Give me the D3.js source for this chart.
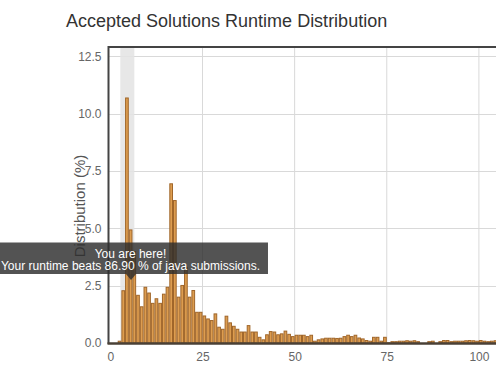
<!DOCTYPE html>
<html><head><meta charset="utf-8">
<script src="https://cdn.jsdelivr.net/npm/d3@7"></script>
<style>
body{margin:0;overflow:hidden;background:#fff}
svg{display:block}
text{font-family:"Liberation Sans",Arial,sans-serif}
</style>
</head><body>
<svg id="chart" width="496" height="370"></svg>
<script>
// ---- data ----
const runtimes = d3.range(1, 105);
const distribution = [
  0, 0.1, 2.3, 10.7, 4.95, 4.0, 2.1, 1.6, 2.45, 2.2,
  1.75, 1.95, 1.75, 2.15, 2.45, 6.96, 6.23, 2.02, 2.53, 3.32,
  2.02, 2.31, 1.36, 1.36, 1.2, 1.07, 1.0, 1.29, 0.71, 0.62,
  1.19, 0.9, 0.75, 0.62, 0.5, 0.5, 0.78, 0.5, 0.5, 0.27,
  0.16, 0.38, 0.52, 0.5, 0.38, 0.42, 0.54, 0.4, 0.3, 0.36,
  0.36, 0.36, 0.3, 0.36, 0.1, 0.16, 0.2, 0.23, 0.23, 0.23,
  0.22, 0.23, 0.3, 0.36, 0.3, 0.36, 0.24, 0.2, 0.13, 0.1,
  0.27, 0.27, 0.1, 0.27, 0.03, 0.08, 0.08, 0.1, 0.1, 0.12,
  0.1, 0.12, 0.08, 0, 0, 0.08, 0.1, 0.02, 0.08, 0.13,
  0.13, 0.08, 0.1, 0.1, 0.1, 0.12, 0.13, 0.12, 0.1, 0.13,
  0.1, 0.08, 0.1, 0.12
];
const xTicks = [0, 25, 50, 75, 100];
const yTicks = [0, 2.5, 5, 7.5, 10, 12.5];
const highlightRange = [2.7, 6.5];
const youAreHere = 5.6;
const chartTitle = "Accepted Solutions Runtime Distribution";
const yAxisTitle = "Distribution (%)";
const tipLines = ["You are here!", "Your runtime beats 86.90 % of java submissions."];

// ---- layout ----
const svg = d3.select("#chart");
const plot = {left: 108.5, top: 47, bottom: 343, right: 560};
const x = d3.scaleLinear().domain([-0.5, 122]).range([plot.left, plot.right]);
const y = d3.scaleLinear().domain([0, 12.9]).range([plot.bottom, plot.top]);

// title
svg.append("text").attr("x", 66).attr("y", 27)
  .attr("font-size", 18).attr("fill", "#333").text(chartTitle);

// grid
const g = svg.append("g");
g.selectAll(".vg").data(xTicks.filter(d => d > 0)).join("line")
  .attr("x1", d => x(d)).attr("x2", d => x(d))
  .attr("y1", plot.top).attr("y2", plot.bottom)
  .attr("stroke", "#d9d9d9").attr("stroke-width", 1);
g.selectAll(".hg").data(yTicks.filter(d => d > 0)).join("line")
  .attr("x1", plot.left).attr("x2", plot.right)
  .attr("y1", d => Math.round(y(d)) + 0.5).attr("y2", d => Math.round(y(d)) + 0.5)
  .attr("stroke", "#d9d9d9").attr("stroke-width", 1);

// highlight band
svg.append("rect")
  .attr("x", x(highlightRange[0])).attr("width", x(highlightRange[1]) - x(highlightRange[0]))
  .attr("y", plot.top).attr("height", plot.bottom - plot.top)
  .attr("fill", "#e3e3e3").attr("opacity", 0.85);

// bars
const data = runtimes.map((r, i) => ({r, v: distribution[i]}));
svg.append("g").selectAll("rect").data(data.filter(d => d.v > 0)).join("rect")
  .attr("x", d => x(d.r) + 0.5)
  .attr("width", d => x(d.r + 1) - x(d.r) - 1)
  .attr("y", d => y(d.v) + 0.5)
  .attr("height", d => Math.max(0, y(0) - y(d.v) - 0.5))
  .attr("fill", "#dd9d50").attr("stroke", "#a0662a").attr("stroke-width", 1);

// frame
svg.append("line").attr("x1", plot.left).attr("x2", plot.right)
  .attr("y1", plot.top).attr("y2", plot.top).attr("stroke", "#444").attr("stroke-width", 2);
svg.append("line").attr("x1", plot.left).attr("x2", plot.left)
  .attr("y1", plot.top - 1).attr("y2", plot.bottom + 1).attr("stroke", "#444").attr("stroke-width", 2);
svg.append("line").attr("x1", plot.left - 1).attr("x2", plot.right)
  .attr("y1", plot.bottom + 0.5).attr("y2", plot.bottom + 0.5).attr("stroke", "#4a4036").attr("stroke-width", 2.5);

// axes
const xAxis = svg.append("g").attr("transform", `translate(0,${plot.bottom + 1})`)
  .call(d3.axisBottom(x).tickValues(xTicks).tickFormat(d3.format("d")).tickSize(0).tickPadding(8));
const yAxis = svg.append("g").attr("transform", `translate(${plot.left - 1},0)`)
  .call(d3.axisLeft(y).tickValues(yTicks).tickFormat(d3.format(".1f")).tickSize(0).tickPadding(6));
[xAxis, yAxis].forEach(a => {
  a.select(".domain").remove();
  a.selectAll("text").attr("font-size", 12).attr("fill", "#666")
    .attr("font-family", '"Liberation Sans",Arial,sans-serif');
});

// y title
svg.append("text").attr("transform", "translate(85,206) rotate(-90)")
  .attr("text-anchor", "middle").attr("font-size", 15).attr("fill", "#555").text(yAxisTitle);

// tooltip
const tipX = x(youAreHere);
const tip = svg.append("g");
tip.append("rect").attr("x", tipX - 138).attr("y", 242.5).attr("width", 275).attr("height", 31.5)
  .attr("fill", "rgba(45,45,45,0.82)");
tip.append("path")
  .attr("d", `M${tipX - 5},274 L${tipX + 5},274 L${tipX},280 Z`)
  .attr("fill", "rgba(45,45,45,0.82)");
tip.selectAll("text").data(tipLines).join("text")
  .attr("x", tipX - 0.5).attr("y", (d, i) => 257.5 + i * 12.5)
  .attr("text-anchor", "middle").attr("font-size", 12).attr("fill", "#fff").text(d => d);
</script>
</body></html>
